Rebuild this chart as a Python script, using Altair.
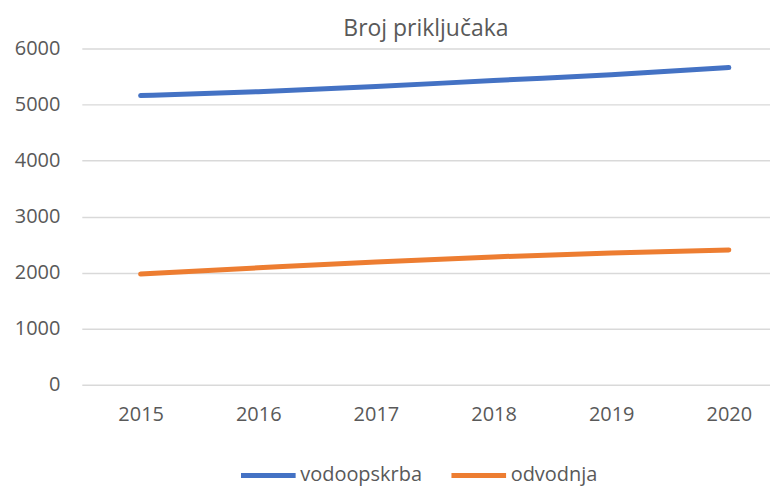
import altair as alt
import pandas as pd

years = [2015, 2016, 2017, 2018, 2019, 2020]
vodoopskrba = [5160, 5230, 5320, 5430, 5530, 5660]
odvodnja = [1975, 2085, 2190, 2280, 2350, 2405]
series_names = ["vodoopskrba", "odvodnja"]
series_colors = ["#4472C4", "#ED7D31"]

rows = []
for name, vals in zip(series_names, [vodoopskrba, odvodnja]):
    for y, v in zip(years, vals):
        rows.append({"godina": y, "serija": name, "vrijednost": v})
df = pd.DataFrame(rows)

FONT = "Open Sans"
TXT = "#595959"

chart = alt.Chart(df).mark_line(
    strokeWidth=5, strokeCap="round", interpolate="monotone"
).encode(
    x=alt.X("godina:Q", title=None,
            scale=alt.Scale(domain=[2014.5, 2020.35], nice=False, zero=False),
            axis=alt.Axis(values=years, format="d", labelAngle=0, domain=False, ticks=False,
                          labelPadding=20, labelFontSize=20, labelColor=TXT, labelFont=FONT,
                          grid=False, labelFlush=False, labelOverlap=False)),
    y=alt.Y("vrijednost:Q", title=None,
            scale=alt.Scale(domain=[0, 6000], nice=False),
            axis=alt.Axis(values=[0, 1000, 2000, 3000, 4000, 5000, 6000], format="d",
                          domain=False, ticks=False, labelPadding=22, labelFontSize=20,
                          labelColor=TXT, labelFont=FONT, gridColor="#D9D9D9", gridWidth=1.5)),
    color=alt.Color("serija:N", sort=series_names,
                    scale=alt.Scale(domain=series_names, range=series_colors),
                    legend=alt.Legend(title=None, orient="none", legendX=157, legendY=398,
                                      direction="horizontal", symbolType="stroke",
                                      symbolSize=3000, symbolStrokeWidth=5,
                                      labelFontSize=20, labelColor=TXT, labelFont=FONT,
                                      labelOffset=2, columnPadding=18)),
).properties(
    width=690, height=337,
    title=alt.TitleParams("Broj priključaka", fontSize=23, font=FONT, color=TXT,
                          fontWeight="normal", anchor="middle", offset=-2),
    padding={"left": 6, "top": 9, "right": 0, "bottom": 0},
).configure_view(stroke=None)

chart.save("out.html", embed_options={"renderer": "svg", "actions": False})
